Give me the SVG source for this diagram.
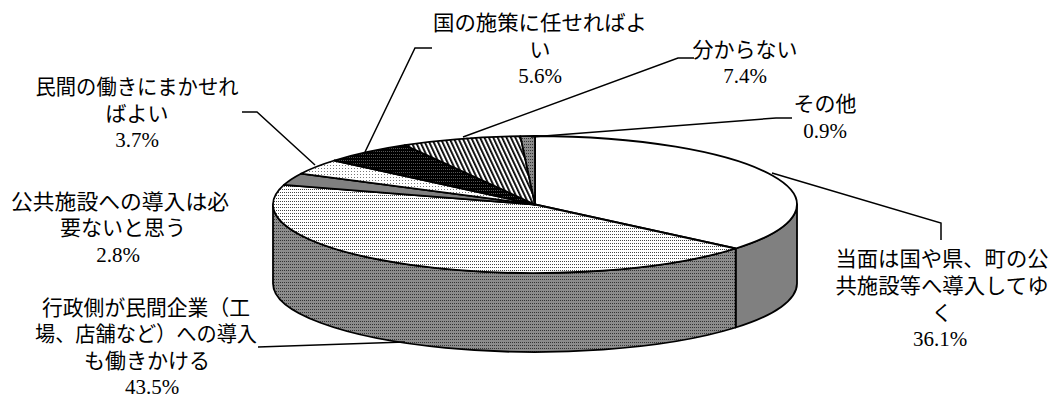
<svg xmlns="http://www.w3.org/2000/svg" width="1054" height="401" viewBox="0 0 1054 401">
<defs>
<pattern id="dotW" width="2" height="3" patternUnits="userSpaceOnUse"><rect width="2" height="3" fill="#fff"/><rect width="1" height="1" fill="#444"/></pattern>
<pattern id="dotG" width="2" height="3" patternUnits="userSpaceOnUse"><rect width="2" height="3" fill="#8c8c8c"/><rect width="1" height="1" fill="#333"/></pattern>
<pattern id="dotL" width="3" height="3" patternUnits="userSpaceOnUse"><rect width="3" height="3" fill="#fff"/><rect width="1" height="1" fill="#777"/></pattern>
<pattern id="dotB" width="2" height="3" patternUnits="userSpaceOnUse"><rect width="2" height="3" fill="#000"/><rect x="1" y="1" width="1" height="1" fill="#555"/></pattern>
<pattern id="hatch" width="4" height="4" patternUnits="userSpaceOnUse" patternTransform="rotate(-25)"><rect width="4" height="4" fill="#fff"/><rect width="1.8" height="4" fill="#000"/></pattern>
</defs>
<style>
.s{stroke:#000;stroke-width:1.8;stroke-linejoin:round}
.l{fill:none;stroke:#000;stroke-width:1.5}
.t{font-family:"Liberation Serif","Noto Sans CJK JP",serif;font-size:21px;font-weight:normal;fill:#000;text-anchor:middle}
</style>
<rect width="1054" height="401" fill="#fff"/>
<g id="pie-sides">
<path class="s" fill="#808080" d="M797 204.5 A262 68.5 0 0 1 735.7 248.5 L735.7 327.5 A262 68.5 0 0 0 797 283.5 Z"/>
<path class="s" fill="url(#dotG)" d="M735.7 248.5 A262 68.5 0 0 1 273 204.5 L273 283.5 A262 68.5 0 0 0 735.7 327.5 Z"/>
</g>
<g id="slice-touchmen">
<path class="s" fill="#fff" d="M535 204.5 L535 136 A262 68.5 0 0 1 735.7 248.5 Z"/>
</g>
<g id="slice-gyosei">
<path class="s" fill="url(#dotW)" d="M535 204.5 L735.7 248.5 A262 68.5 0 0 1 283.9 184.9 Z"/>
</g>
<g id="slice-kokyo">
<path class="s" fill="#808080" d="M535 204.5 L283.9 184.9 A262 68.5 0 0 1 300.9 173.7 Z"/>
</g>
<g id="slice-minkan">
<path class="s" fill="url(#dotL)" d="M535 204.5 L300.9 173.7 A262 68.5 0 0 1 334.3 160.5 Z"/>
</g>
<g id="slice-kuni">
<path class="s" fill="url(#dotB)" d="M535 204.5 L334.3 160.5 A262 68.5 0 0 1 404.7 145.1 Z"/>
</g>
<g id="slice-wakaranai">
<path class="s" fill="url(#hatch)" d="M535 204.5 L404.7 145.1 A262 68.5 0 0 1 520.4 136.1 Z"/>
</g>
<g id="slice-sonota">
<path class="s" fill="url(#dotG)" d="M535 204.5 L520.4 136.1 A262 68.5 0 0 1 535 136 Z"/>
</g>
<g id="connectors">
<polyline class="l" points="242,112 257,112 315,165"/>
<polyline class="l" points="432,48 415,48 365,152"/>
<polyline class="l" points="694,58 678,58 463,137"/>
<polyline class="l" points="792,118 776,118 531,137"/>
<polyline class="l" points="772,173 941,223 941,240"/>
<polyline class="l" points="258,347 405,342"/>
</g>
<g id="label-minkan">
<text class="t" x="137" y="94" textLength="203" lengthAdjust="spacingAndGlyphs">民間の働きにまかせれ</text>
<text class="t" x="137" y="121">ばよい</text>
<text class="t" x="137" y="147">3.7%</text>
</g>
<g id="label-kuni">
<text class="t" x="540" y="30" textLength="214" lengthAdjust="spacingAndGlyphs">国の施策に任せればよ</text>
<text class="t" x="540" y="57">い</text>
<text class="t" x="540" y="83">5.6%</text>
</g>
<g id="label-wakaranai">
<text class="t" x="745" y="57">分からない</text>
<text class="t" x="745" y="83">7.4%</text>
</g>
<g id="label-sonota">
<text class="t" x="825" y="111">その他</text>
<text class="t" x="825" y="138">0.9%</text>
</g>
<g id="label-touchmen">
<text class="t" x="942" y="266" textLength="213" lengthAdjust="spacingAndGlyphs">当面は国や県、町の公</text>
<text class="t" x="942" y="293" textLength="213" lengthAdjust="spacingAndGlyphs">共施設等へ導入してゆ</text>
<text class="t" x="942" y="320">く</text>
<text class="t" x="940" y="346">36.1%</text>
</g>
<g id="label-kokyo">
<text class="t" x="120" y="209" textLength="218" lengthAdjust="spacingAndGlyphs">公共施設への導入は必</text>
<text class="t" x="123" y="235">要ないと思う</text>
<text class="t" x="118" y="262">2.8%</text>
</g>
<g id="label-gyosei">
<text class="t" x="146" y="315" textLength="208" lengthAdjust="spacingAndGlyphs">行政側が民間企業（工</text>
<text class="t" x="146" y="341" textLength="222" lengthAdjust="spacingAndGlyphs">場、店舗など）への導入</text>
<text class="t" x="147" y="368">も働きかける</text>
<text class="t" x="152" y="394">43.5%</text>
</g>
</svg>
